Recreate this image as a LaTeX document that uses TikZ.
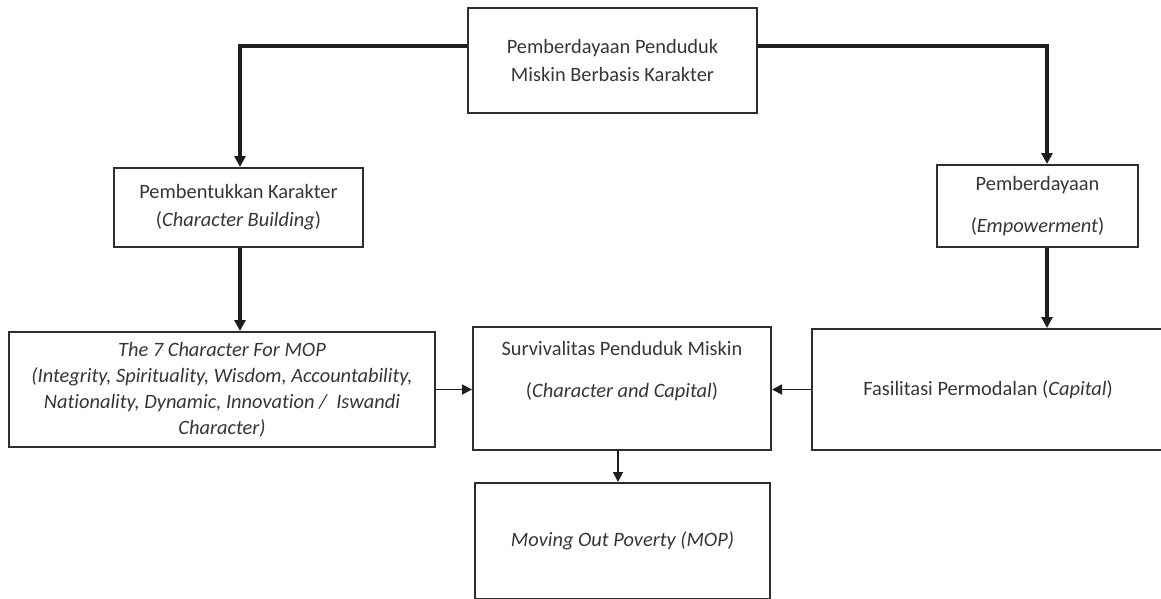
\documentclass[tikz,border=0pt]{standalone}
\usepackage{fontspec}
\setmainfont{Carlito}[RawFeature={-liga;-dlig;-clig}]
\usetikzlibrary{arrows.meta}
\definecolor{boxc}{HTML}{2E2E2E}
\definecolor{txtc}{HTML}{363636}
\definecolor{arrc}{HTML}{1E1E1E}
\begin{document}
\begin{tikzpicture}[x=1pt,y=-1pt,
  box/.style={draw=boxc, line width=2pt, inner sep=0pt, text=txtc, align=center,
    font=\fontsize{20.4}{28}\selectfont},
  txt/.style={inner sep=0pt, text=txtc, align=center, font=\fontsize{20.4}{42}\selectfont},
  big/.style={draw=arrc, line width=3.6pt, -{Triangle[length=11pt,width=11pt]}},
  small/.style={draw=arrc, line width=1.8pt, -{Triangle[length=10pt,width=10pt]}}]
\useasboundingbox (0,0) rectangle (1161,599);
\fill[white] (0,0) rectangle (1161,599);

\node[box, minimum width=289, minimum height=105] (top) at (612.5,60.5)
  {Pemberdayaan Penduduk\\Miskin Berbasis Karakter};
\node[box, minimum width=249, minimum height=79] (pk) at (238.5,207.5)
  {Pembentukkan Karakter\\(\textit{Character Building})};
\node[box, minimum width=201, minimum height=82, font=\fontsize{20.4}{42}\selectfont] (pd) at (1037.5,206)
  {Pemberdayaan\\(\textit{Empowerment})};
\node[box, minimum width=426, minimum height=115, font=\fontsize{20.4}{26}\selectfont\itshape] (sc) at (222,389.5)
  {The 7 Character For MOP\\(Integrity, Spirituality, Wisdom, Accountability,\\Nationality, Dynamic, Innovation /\ \ Iswandi\\Character)};
\node[box, minimum width=298, minimum height=123] (sv) at (622,388.5) {};
\node[txt] (svtext) at (622,371)
  {Survivalitas Penduduk Miskin\\(\textit{Character and Capital})};
\node[box, minimum width=295, minimum height=116] (mop) at (622.5,541)
  {\textit{Moving Out Poverty (MOP)}};
\node[box, minimum width=352, minimum height=121] (fas) at (988,389.5)
  {Fasilitasi Permodalan (\textit{Capital})};

\draw[big] ([yshift=14.5pt]top.west) -| ([xshift=1.5pt]pk.north);
\draw[big] ([yshift=14.5pt]top.east) -| ([xshift=9.5pt]pd.north);
\draw[big] ([xshift=1.5pt]pk.south) -- ([xshift=1.5pt]pk.south |- sc.north);
\draw[big] ([xshift=9.5pt]pd.south) -- ([xshift=9.5pt]pd.south |- fas.north);
\draw[small] (sc.east) -- (sc.east -| sv.west);
\draw[small] (fas.west) -- (fas.west -| sv.east);
\draw[small] ([xshift=-4pt]sv.south) -- ([xshift=-4pt]sv.south |- mop.north);
\end{tikzpicture}
\end{document}
